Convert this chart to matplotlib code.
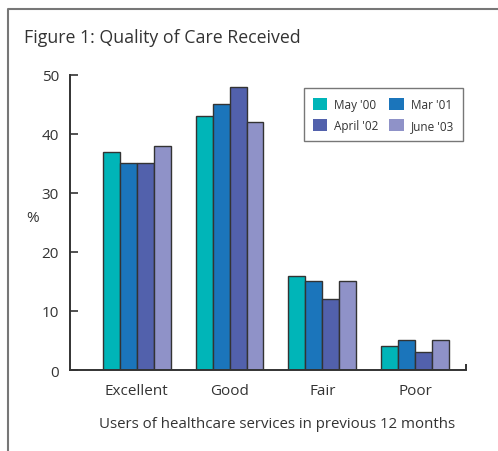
import matplotlib.pyplot as plt
import numpy as np
from matplotlib.lines import Line2D
from matplotlib.patches import Patch

# data
categories = ["Excellent", "Good", "Fair", "Poor"]
series_names = ["May '00", "Mar '01", "April '02", "June '03"]
may_00 = [37, 43, 16, 4]
mar_01 = [35, 45, 15, 5]
april_02 = [35, 48, 12, 3]
june_03 = [38, 42, 15, 5]
yticks = [0, 10, 20, 30, 40, 50]

colors = ["#00b5b8", "#1b75bb", "#5261ac", "#8f92c8"]
edge = "#333333"
txt = "#333333"

plt.rcParams['font.family'] = ['Open Sans', 'DejaVu Sans']

fig = plt.figure(figsize=(4.98, 4.52), dpi=100)
ax = fig.add_axes([0.1406, 0.1792, 0.7952, 0.6527])

x = np.arange(len(categories))
w = 0.183
for i, vals in enumerate([may_00, mar_01, april_02, june_03]):
    ax.bar(x + (i - 1.5) * w, vals, width=w, color=colors[i],
           edgecolor=edge, linewidth=1.0, zorder=2)

ax.set_xlim(-0.72, 3.55)
ax.set_ylim(0, 50)
ax.set_yticks(yticks)
ax.set_xticks(x)
ax.set_xticklabels(categories)
ax.tick_params(axis='y', direction='in', length=6, width=1.2, colors=edge,
               labelcolor=txt, labelsize=11, pad=8)
ax.tick_params(axis='x', length=0, labelcolor=txt, labelsize=11, pad=9)
for s in ['top', 'right']:
    ax.spines[s].set_visible(False)
for s in ['left', 'bottom']:
    ax.spines[s].set_color(edge)
    ax.spines[s].set_linewidth(1.4)
# little end tick at the right of the x axis
ax.plot([1, 1], [0, 0.02], transform=ax.transAxes, color=edge, lw=1.4,
        clip_on=False, solid_capstyle='butt')

ax.set_ylabel("%", rotation=0, color=txt, fontsize=11)
ax.yaxis.set_label_coords(-0.095, 0.49)
ax.set_xlabel("Users of healthcare services in previous 12 months",
              color=txt, fontsize=10.8)
ax.xaxis.set_label_coords(0.523, -0.155)

handles = [Patch(facecolor=c, edgecolor='none') for c in colors]
order = [0, 2, 1, 3]
leg = ax.legend([handles[k] for k in order], [series_names[k] for k in order],
                ncol=2, loc='upper right', bbox_to_anchor=(1.008, 0.975),
                fontsize=8.5, frameon=True, fancybox=False, edgecolor='#555555',
                handlelength=1.2, handleheight=1.2, handletextpad=0.6,
                columnspacing=0.9, labelspacing=0.7, borderpad=0.8,
                labelcolor=txt)
leg.get_frame().set_linewidth(1.0)

fig.text(0.048, 0.915, "Figure 1: Quality of Care Received", fontsize=12.8,
         color=txt, va='center', ha='left')

# outer frame (top and left edges)
fig.add_artist(Line2D([8 / 498, 8 / 498, 1.0], [0.0, 1 - 10 / 452, 1 - 10 / 452],
                      color='#777777', lw=1.5, transform=fig.transFigure))

fig.savefig("out.png", dpi=100)
